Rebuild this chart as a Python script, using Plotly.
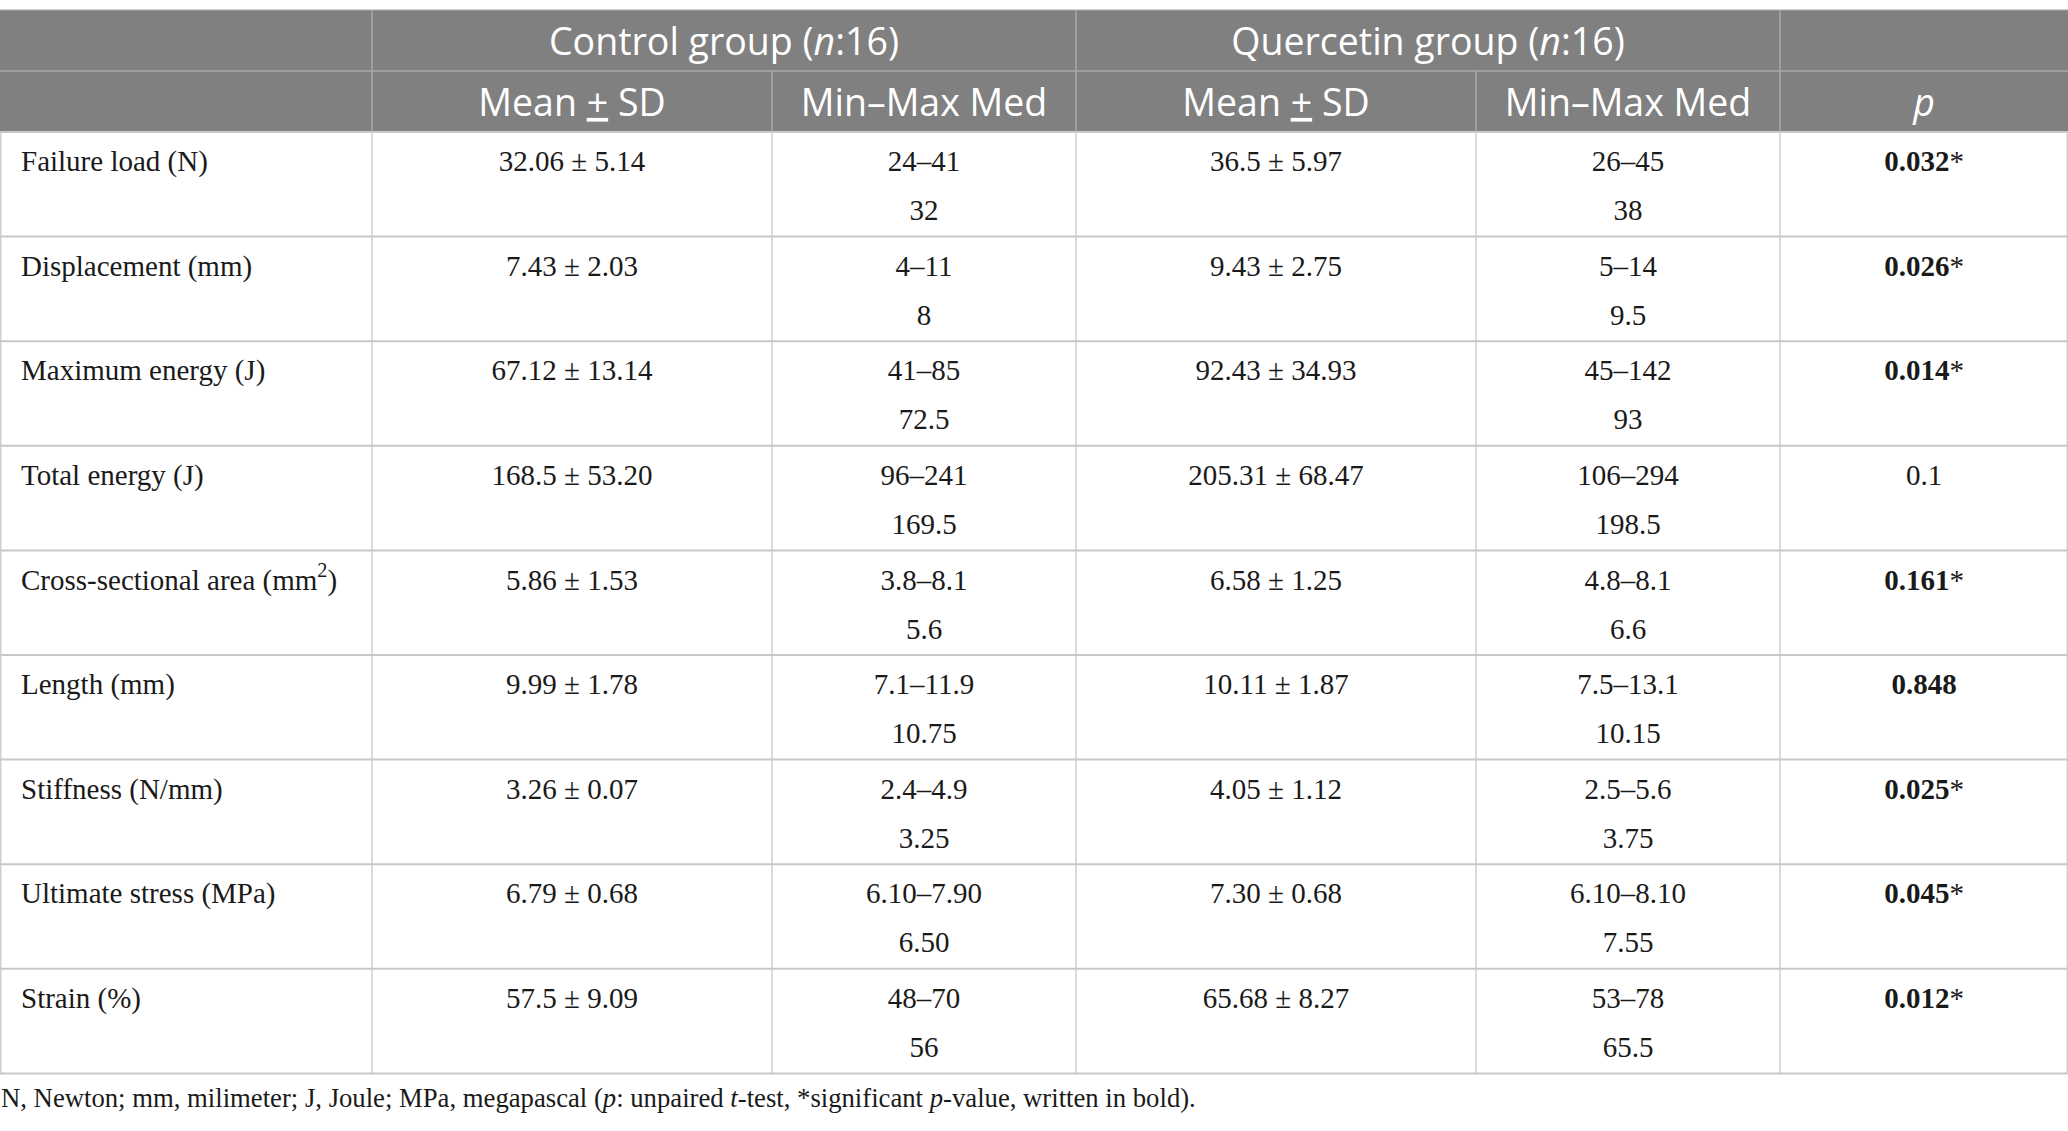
import plotly.graph_objects as go

# Table contents
labels = [
    "Failure load (N)", "Displacement (mm)", "Maximum energy (J)", "Total energy (J)",
    "Cross-sectional area (mm<sup>2</sup>)", "Length (mm)", "Stiffness (N/mm)",
    "Ultimate stress (MPa)", "Strain (%)",
]
control_mean_sd = ["32.06 ± 5.14", "7.43 ± 2.03", "67.12 ± 13.14", "168.5 ± 53.20", "5.86 ± 1.53",
                   "9.99 ± 1.78", "3.26 ± 0.07", "6.79 ± 0.68", "57.5 ± 9.09"]
control_range = ["24–41", "4–11", "41–85", "96–241", "3.8–8.1", "7.1–11.9", "2.4–4.9", "6.10–7.90", "48–70"]
control_median = ["32", "8", "72.5", "169.5", "5.6", "10.75", "3.25", "6.50", "56"]
quercetin_mean_sd = ["36.5 ± 5.97", "9.43 ± 2.75", "92.43 ± 34.93", "205.31 ± 68.47", "6.58 ± 1.25",
                     "10.11 ± 1.87", "4.05 ± 1.12", "7.30 ± 0.68", "65.68 ± 8.27"]
quercetin_range = ["26–45", "5–14", "45–142", "106–294", "4.8–8.1", "7.5–13.1", "2.5–5.6", "6.10–8.10", "53–78"]
quercetin_median = ["38", "9.5", "93", "198.5", "6.6", "10.15", "3.75", "7.55", "65.5"]
p_values = ["0.032", "0.026", "0.014", "0.1", "0.161", "0.848", "0.025", "0.045", "0.012"]
p_bold = [True, True, True, False, True, True, True, True, True]
p_star = [True, True, True, False, True, False, True, True, True]

group_headers = ["Control group (<i>n</i>:16)", "Quercetin group (<i>n</i>:16)"]
sub_headers = ["Mean <u>+</u> SD", "Min–Max Med", "Mean <u>+</u> SD", "Min–Max Med", "<i>p</i>"]
footnote = ("N, Newton; mm, milimeter; J, Joule; MPa, megapascal (<i>p</i>: unpaired <i>t</i>-test, "
            "*significant <i>p</i>-value, written in bold).")

# Layout geometry (pixels)
W, H = 2068, 1131
col_edges = [0, 372, 772, 1076, 1476, 1780, 2068]
top = 10
head1_bottom = 71
head_bottom = 132
row_h = 104.6
line1_off = 32
line2_off = 81
table_bottom = head_bottom + row_h * len(labels)

header_bg = "#808080"
header_line = "#a8a8a8"
grid = "#c8c8c8"
body_font = dict(family="Liberation Serif", size=29, color="#1a1a1a")
head_font = dict(family="Open Sans", size=37.5, color="white")

fig = go.Figure()

shapes = []
shapes.append(dict(type="rect", x0=0, x1=W, y0=top, y1=head_bottom, fillcolor=header_bg,
                   line=dict(width=0), layer="below"))
shapes.append(dict(type="line", x0=0, x1=W, y0=head1_bottom, y1=head1_bottom,
                   line=dict(color=header_line, width=1.5)))
shapes.append(dict(type="line", x0=0, x1=W, y0=top, y1=top, line=dict(color=header_line, width=1)))
# header verticals
for x in [col_edges[1], col_edges[3], col_edges[5]]:
    shapes.append(dict(type="line", x0=x, x1=x, y0=top, y1=head_bottom,
                       line=dict(color=header_line, width=1.5)))
for x in [col_edges[2], col_edges[4]]:
    shapes.append(dict(type="line", x0=x, x1=x, y0=head1_bottom, y1=head_bottom,
                       line=dict(color=header_line, width=1.5)))
# body grid
for i in range(len(labels) + 1):
    y = head_bottom + row_h * i
    shapes.append(dict(type="line", x0=0, x1=W, y0=y, y1=y, line=dict(color=grid, width=2)))
for x in [0.8] + col_edges[1:-1] + [W - 0.8]:
    shapes.append(dict(type="line", x0=x, x1=x, y0=head_bottom, y1=table_bottom,
                       line=dict(color=grid, width=1.3)))


def centre(c):
    return (col_edges[c] + col_edges[c + 1]) / 2


line1 = [head_bottom + row_h * i + line1_off for i in range(len(labels))]
line2 = [head_bottom + row_h * i + line2_off for i in range(len(labels))]

# header text
fig.add_trace(go.Scatter(
    x=[(col_edges[1] + col_edges[3]) / 2, (col_edges[3] + col_edges[5]) / 2],
    y=[(top + head1_bottom) / 2 + 5] * 2, mode="text", text=group_headers,
    textfont=head_font, hoverinfo="skip"))
fig.add_trace(go.Scatter(
    x=[centre(c) for c in range(1, 6)], y=[(head1_bottom + head_bottom) / 2 + 5] * 5,
    mode="text", text=sub_headers, textfont=head_font, hoverinfo="skip"))

# row labels
fig.add_trace(go.Scatter(x=[21] * len(labels), y=line1, mode="text", text=labels,
                         textposition="middle right", textfont=body_font, hoverinfo="skip"))

# body columns
fig.add_trace(go.Scatter(x=[centre(1)] * len(labels), y=line1, mode="text", text=control_mean_sd,
                         textfont=body_font, hoverinfo="skip"))
fig.add_trace(go.Scatter(x=[centre(2)] * len(labels) * 2, y=line1 + line2, mode="text",
                         text=control_range + control_median, textfont=body_font, hoverinfo="skip"))
fig.add_trace(go.Scatter(x=[centre(3)] * len(labels), y=line1, mode="text", text=quercetin_mean_sd,
                         textfont=body_font, hoverinfo="skip"))
fig.add_trace(go.Scatter(x=[centre(4)] * len(labels) * 2, y=line1 + line2, mode="text",
                         text=quercetin_range + quercetin_median, textfont=body_font, hoverinfo="skip"))

p_text = []
for v, b, s in zip(p_values, p_bold, p_star):
    t = f"<b>{v}</b>" if b else v
    if s:
        t += "*"
    p_text.append(t)
fig.add_trace(go.Scatter(x=[centre(5)] * len(labels), y=line1, mode="text", text=p_text,
                         textfont=body_font, hoverinfo="skip"))

# footnote
fig.add_trace(go.Scatter(x=[1], y=[table_bottom + 27], mode="text", text=[footnote],
                         textposition="middle right",
                         textfont=dict(family="Liberation Serif", size=26.7, color="#1a1a1a"),
                         hoverinfo="skip"))

fig.update_layout(
    width=W, height=H,
    margin=dict(l=0, r=0, t=0, b=0),
    paper_bgcolor="white", plot_bgcolor="white",
    showlegend=False,
    shapes=shapes,
    xaxis=dict(range=[0, W], visible=False, fixedrange=True),
    yaxis=dict(range=[H, 0], visible=False, fixedrange=True),
)

# drop the default page margin so the figure sits at the window's corner
fig.write_html("out.html", config={"displayModeBar": False},
               post_script="document.body.style.margin='0';")
